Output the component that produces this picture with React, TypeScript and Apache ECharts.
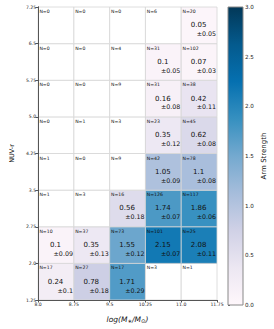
import React, { useEffect, useRef } from "react";
import * as echarts from "echarts";

// Bin edges / tick labels
const xTickLabels = ["8.0", "8.75", "9.5", "10.25", "11.0", "11.75"];
const yTickLabels = ["1.25", "2.0", "2.75", "3.5", "4.25", "5.0", "5.75", "6.5", "7.25"];
const cbarTicks = ["0.0", "0.5", "1.0", "1.5", "2.0", "2.5", "3.0"];

// rows listed from bottom (NUV-r 1.25-2.0) to top (6.5-7.25); columns = mass bins
const counts = [
  [17, 27, 17, 3, 1],
  [10, 37, 73, 101, 25],
  [1, 3, 16, 126, 117],
  [1, 0, 9, 42, 78],
  [0, 1, 3, 23, 45],
  [0, 0, 9, 31, 38],
  [0, 0, 4, 31, 102],
  [0, 0, 0, 6, 20],
];
const strength = [
  [0.24, 0.78, 1.71, null, null],
  [0.1, 0.35, 1.55, 2.15, 2.08],
  [null, null, 0.56, 1.74, 1.86],
  [null, null, null, 1.05, 1.1],
  [null, null, null, 0.35, 0.62],
  [null, null, null, 0.16, 0.42],
  [null, null, null, 0.1, 0.07],
  [null, null, null, null, 0.05],
];
const errors = [
  [0.1, 0.18, 0.29, null, null],
  [0.09, 0.13, 0.12, 0.07, 0.11],
  [null, null, 0.18, 0.07, 0.06],
  [null, null, null, 0.09, 0.08],
  [null, null, null, 0.12, 0.08],
  [null, null, null, 0.08, 0.11],
  [null, null, null, 0.05, 0.03],
  [null, null, null, null, 0.05],
];

const PuBu = ["#fff7fb", "#ece7f2", "#d0d1e6", "#a6bddb", "#74a9cf", "#3690c0", "#0570b0", "#045a8d", "#023858"];
const VMIN = 0;
const VMAX = 3;
const FONT = "DejaVu Sans";

export default function App() {
  const ref = useRef<HTMLDivElement>(null);
  useEffect(() => {
    if (!ref.current) return;
    const chart = echarts.init(ref.current, undefined, { renderer: "svg" });

    const cellData: any[] = [];
    counts.forEach((row, r) =>
      row.forEach((n, c) => {
        cellData.push([c, r, n, strength[r][c] ?? NaN, errors[r][c] ?? NaN]);
      })
    );

    const renderCell = (params: any, api: any) => {
      const c = api.value(0);
      const r = api.value(1);
      const n = api.value(2);
      const v = api.value(3);
      const e = api.value(4);
      const p0 = api.coord([c, r + 1]);
      const p1 = api.coord([c + 1, r]);
      const x0 = p0[0];
      const y0 = p0[1];
      const w = p1[0] - p0[0];
      const h = p1[1] - p0[1];
      const has = typeof v === "number" && !isNaN(v);
      const fill = has
        ? (echarts.color.lerp(Math.min(1, Math.max(0, (v - VMIN) / (VMAX - VMIN))), PuBu) as string)
        : "#ffffff";
      const children: any[] = [
        {
          type: "rect",
          shape: { x: x0, y: y0, width: w, height: h },
          style: { fill, stroke: "#d6d6d6", lineWidth: 0.8 },
        },
        {
          type: "text",
          style: {
            text: "N=" + n,
            x: x0 + 1.3,
            y: y0 + 2,
            fontSize: 4.6,
            fontFamily: FONT,
            fill: "#111",
            align: "left",
            verticalAlign: "top",
          },
        },
      ];
      if (has) {
        children.push({
          type: "text",
          style: {
            text: String(v),
            x: x0 + w / 2 - 0.5,
            y: y0 + h * 0.5,
            fontSize: 7,
            fontFamily: FONT,
            fill: "#111",
            align: "center",
            verticalAlign: "middle",
          },
        });
        children.push({
          type: "text",
          style: {
            text: "\u00b1" + String(e),
            x: x0 + w - 1,
            y: y0 + h * 0.73,
            fontSize: 6.3,
            fontFamily: FONT,
            fill: "#111",
            align: "right",
            verticalAlign: "middle",
          },
        });
      }
      return { type: "group", children };
    };

    const renderBar = (params: any, api: any) => {
      const p0 = api.coord([0, VMAX]);
      const p1 = api.coord([1, VMIN]);
      const stops = PuBu.map((col, i) => ({ offset: i / (PuBu.length - 1), color: col }));
      return {
        type: "rect",
        shape: { x: p0[0], y: p0[1], width: p1[0] - p0[0], height: p1[1] - p0[1] },
        style: {
          fill: new echarts.graphic.LinearGradient(0, 1, 0, 0, stops),
          stroke: "#888",
          lineWidth: 1,
        },
      };
    };

    const axisLineStyle = { color: "#555", width: 1 };

    chart.setOption({
      animation: false,
      backgroundColor: "#ffffff",
      textStyle: { fontFamily: FONT },
      grid: [
        { left: 28, top: 7, width: 189, height: 298 },
        { left: 228, top: 7, width: 15, height: 298 },
      ],
      xAxis: [
        {
          type: "value",
          gridIndex: 0,
          min: 0,
          max: xTickLabels.length - 1,
          interval: 1,
          z: 5,
          axisLine: { show: true, lineStyle: axisLineStyle },
          axisTick: { show: true, length: 2.5, lineStyle: axisLineStyle },
          splitLine: { show: false },
          axisLabel: {
            fontSize: 4.6,
            margin: 2,
            color: "#222",
            fontFamily: FONT,
            formatter: (v: number) => xTickLabels[Math.round(v)],
          },
          name: "{t|log(M}{s|\u2217}{t|/M}{s|\u2299}{t|)}",
          nameLocation: "middle",
          nameGap: 14,
          nameTextStyle: {
            rich: {
              t: { fontSize: 7.5, fontStyle: "italic", fontFamily: FONT, color: "#111" },
              s: { fontSize: 5.5, fontFamily: FONT, color: "#111", padding: [4, 0, 0, 0] },
            },
          },
        },
        {
          type: "value",
          gridIndex: 0,
          position: "top",
          min: 0,
          max: xTickLabels.length - 1,
          interval: 1,
          z: 5,
          axisLine: { show: true, lineStyle: axisLineStyle },
          axisTick: { show: false },
          axisLabel: { show: false },
          splitLine: { show: false },
        },
        {
          type: "value",
          gridIndex: 1,
          min: 0,
          max: 1,
          show: false,
        },
      ],
      yAxis: [
        {
          type: "value",
          gridIndex: 0,
          min: 0,
          max: yTickLabels.length - 1,
          interval: 1,
          z: 5,
          axisLine: { show: true, lineStyle: axisLineStyle },
          axisTick: { show: true, length: 2.5, lineStyle: axisLineStyle },
          splitLine: { show: false },
          axisLabel: {
            fontSize: 4.6,
            margin: 2,
            color: "#222",
            fontFamily: FONT,
            formatter: (v: number) => yTickLabels[Math.round(v)],
          },
          name: "NUV-r",
          nameLocation: "middle",
          nameRotate: 90,
          nameGap: 15,
          nameTextStyle: { fontSize: 6.5, fontFamily: FONT, color: "#111" },
        },
        {
          type: "value",
          gridIndex: 0,
          position: "right",
          min: 0,
          max: yTickLabels.length - 1,
          interval: 1,
          z: 5,
          axisLine: { show: true, lineStyle: axisLineStyle },
          axisTick: { show: false },
          axisLabel: { show: false },
          splitLine: { show: false },
        },
        {
          type: "value",
          gridIndex: 1,
          position: "right",
          min: VMIN,
          max: VMAX,
          interval: 0.5,
          axisLine: { show: false },
          axisTick: { show: true, length: 2, lineStyle: axisLineStyle },
          splitLine: { show: false },
          axisLabel: {
            fontSize: 5.6,
            margin: 2,
            color: "#222",
            fontFamily: FONT,
            formatter: (v: number) => cbarTicks[Math.round(v / 0.5)],
          },
          name: "Arm Strength",
          nameLocation: "middle",
          nameRotate: 90,
          nameGap: 17,
          nameTextStyle: { fontSize: 7, fontFamily: FONT, color: "#111" },
        },
      ],
      series: [
        {
          type: "custom",
          xAxisIndex: 0,
          yAxisIndex: 0,
          renderItem: renderCell,
          data: cellData,
          z: 2,
          silent: true,
        },
        {
          type: "custom",
          xAxisIndex: 2,
          yAxisIndex: 2,
          renderItem: renderBar,
          data: [[0, 0]],
          silent: true,
        },
      ],
    });
    return () => chart.dispose();
  }, []);
  return (
    <div
      ref={ref}
      style={{ position: "fixed", left: 0, top: 0, width: 274, height: 329, background: "#fff" }}
    />
  );
}
